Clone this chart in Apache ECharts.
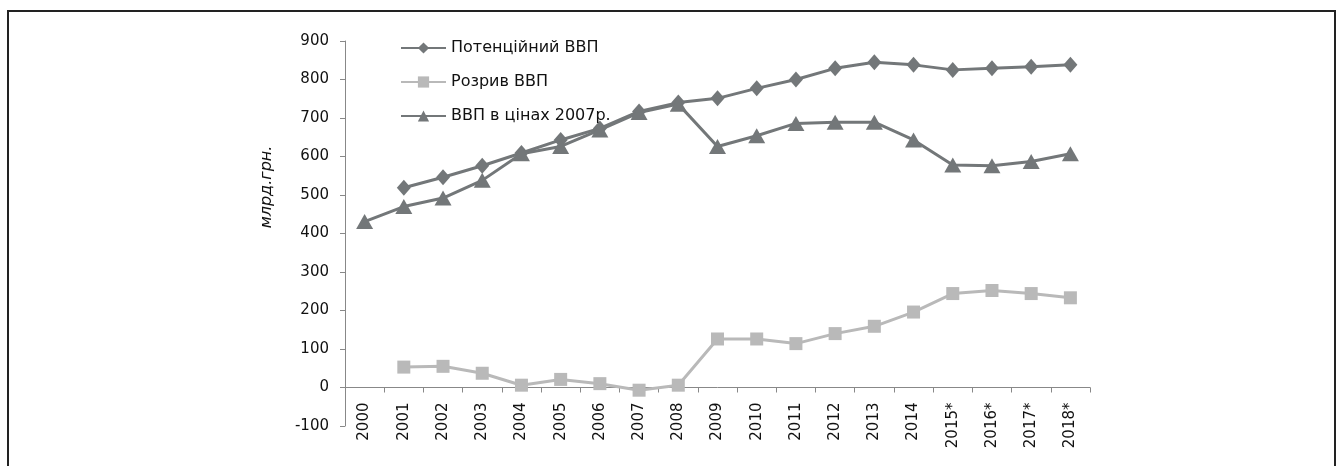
<!DOCTYPE html>
<html>
<head>
<meta charset="utf-8">
<script src="https://cdn.jsdelivr.net/npm/echarts@6/dist/echarts.min.js"></script>
<style>
html,body{margin:0;padding:0;background:#fff;}
#chart{width:1340px;height:466px;}
</style>
</head>
<body>
<div id="chart"></div>
<script>
const categories = ['2000','2001','2002','2003','2004','2005','2006','2007','2008','2009','2010','2011','2012','2013','2014','2015*','2016*','2017*','2018*'];
const potentialGDP = [null,519,546,576,609,643,673,717,740,751,777,800,829,845,838,825,829,833,838];
const gdpGap = [null,53,55,37,6,21,10,-7,6,126,126,114,140,159,196,244,252,244,233];
const realGDP = [431,470,492,538,607,626,669,714,736,626,654,686,689,689,643,578,576,587,607];
const seriesNames = ['Потенційний ВВП','Розрив ВВП','ВВП в цінах 2007р.'];
const yAxisName = 'млрд.грн.';

const dark = '#737779';
const light = '#b9b9b9';
const font = '"DejaVu Sans", Arial, sans-serif';

const gridTop = 41, gridBottom = 40, chartH = 466;
const yMin = -100, yMax = 900;
const plotH = chartH - gridTop - gridBottom;
// shift the category axis up so it sits on the zero line
const zeroOffset = -plotH * (0 - yMin) / (yMax - yMin);

const chart = echarts.init(document.getElementById('chart'), null, {renderer:'canvas'});
chart.setOption({
  animation: false,
  backgroundColor: '#fff',
  textStyle: {fontFamily: font},
  grid: {left: 345, right: 250, top: gridTop, bottom: gridBottom, containLabel: false, outerBoundsMode: 'none'},
  legend: {
    orient: 'vertical', left: 395, top: 35,
    itemWidth: 45, itemHeight: 14, itemGap: 18,
    textStyle: {fontSize: 16, color: '#111', fontFamily: font},
    data: seriesNames
  },
  xAxis: {
    type: 'category', data: categories, boundaryGap: true,
    offset: zeroOffset,
    axisLine: {onZero: false, lineStyle: {color: '#888', width: 1}},
    axisTick: {show: true, length: 5, lineStyle: {color: '#888'}},
    axisLabel: {rotate: 90, fontSize: 15, color: '#111', margin: 15, fontFamily: font}
  },
  yAxis: {
    type: 'value', min: yMin, max: yMax, interval: 100,
    splitLine: {show: false},
    axisLine: {show: true, lineStyle: {color: '#888', width: 1}},
    axisTick: {show: true, length: 5, lineStyle: {color: '#888'}},
    axisLabel: {fontSize: 15, color: '#111', margin: 16, fontFamily: font}
  },
  graphic: [
    {type: 'rect', shape: {x: 8, y: 11, width: 1327, height: 520}, style: {fill: 'none', stroke: '#222', lineWidth: 2}, silent: true},
    {type: 'text', x: 267, y: 187, rotation: Math.PI/2,
     style: {text: yAxisName, font: 'italic 16px ' + font, fill: '#111', textAlign: 'center', textVerticalAlign: 'middle'}}
  ],
  series: [
    {name: seriesNames[0], type: 'line', data: potentialGDP, symbol: 'diamond', symbolSize: [14,16],
     lineStyle: {color: dark, width: 3}, itemStyle: {color: dark}, z: 3},
    {name: seriesNames[1], type: 'line', data: gdpGap, symbol: 'rect', symbolSize: 13,
     lineStyle: {color: light, width: 3}, itemStyle: {color: light}, z: 2},
    {name: seriesNames[2], type: 'line', data: realGDP, symbol: 'triangle', symbolSize: [17,15],
     lineStyle: {color: dark, width: 3}, itemStyle: {color: dark}, z: 4}
  ]
});
</script>
</body>
</html>
